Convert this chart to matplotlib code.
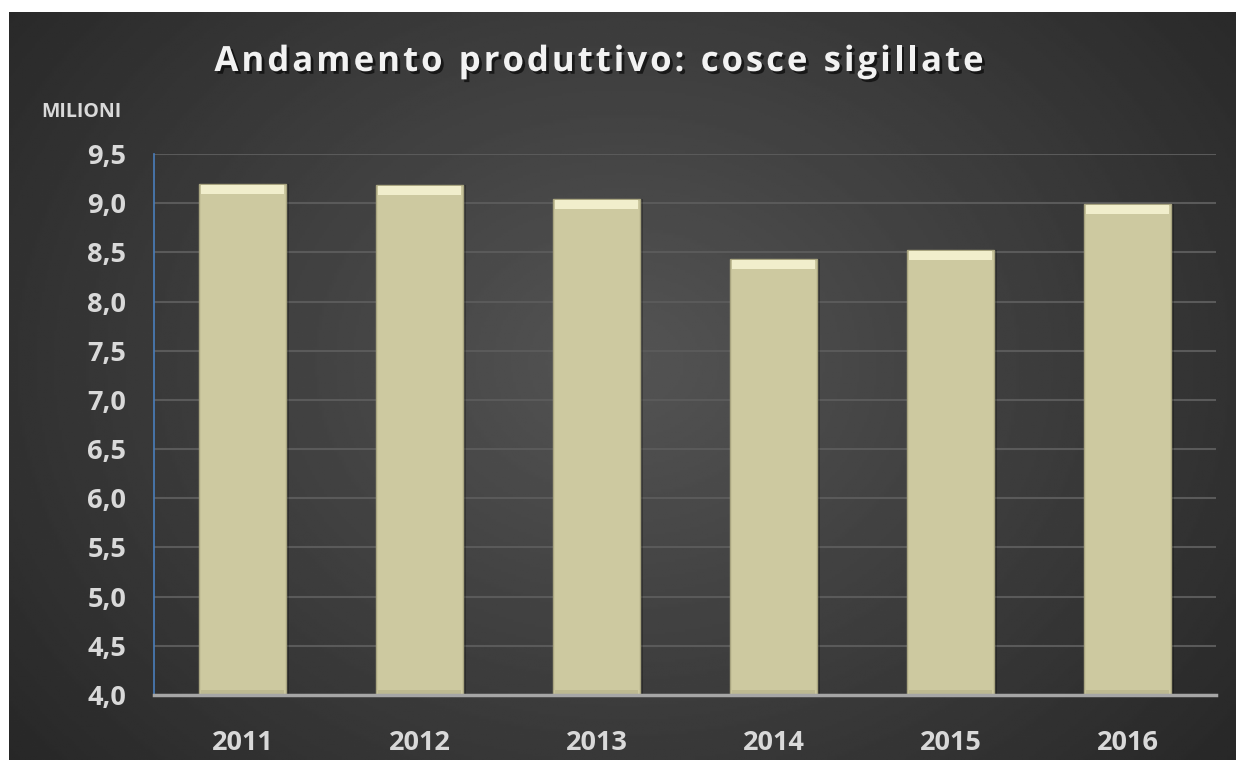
import numpy as np
import matplotlib.pyplot as plt
import matplotlib.patheffects as pe

# dati
anni = ['2011', '2012', '2013', '2014', '2015', '2016']
cosce = [9.19, 9.18, 9.04, 8.43, 8.52, 8.99]
tick_y = [4.0, 4.5, 5.0, 5.5, 6.0, 6.5, 7.0, 7.5, 8.0, 8.5, 9.0, 9.5]
etichette_y = ['4,0', '4,5', '5,0', '5,5', '6,0', '6,5', '7,0', '7,5', '8,0', '8,5', '9,0', '9,5']
titolo = 'Andamento produttivo: cosce sigillate'

plt.rcParams['font.family'] = ['Open Sans', 'DejaVu Sans']

fig = plt.figure(figsize=(12.36, 7.6), dpi=100)
fig.patch.set_facecolor('white')

# sfondo scuro con sfumatura radiale
sf = fig.add_axes([9 / 1236, 0, 1 - 9 / 1236, (760 - 12) / 760])
yy, xx = np.mgrid[0:300, 0:500]
r = np.sqrt(((xx - 250) / 330.0) ** 2 + ((yy - 140) / 260.0) ** 2)
r = np.clip(r, 0, 1)
grad = 0.33 - 0.18 * r
sf.imshow(grad, cmap='gray', vmin=0, vmax=1, aspect='auto', extent=[0, 1, 0, 1])
sf.set_axis_off()

ax = fig.add_axes([154 / 1236, 65 / 760, (1216 - 154) / 1236, (695 - 154) / 760])
ax.set_facecolor('none')

x = np.arange(len(anni))
base = 4.0
alt = [v - base for v in cosce]

# ombra
ax.bar(x + 0.012, alt, width=0.5, bottom=base, color='black', alpha=0.25, zorder=2)
# barre
ax.bar(x, alt, width=0.49, bottom=base, color='#cdc9a0', edgecolor='#a9a580',
       linewidth=1.0, zorder=3)
# smusso superiore
ax.bar(x, [0.09] * len(x), width=0.47, bottom=[v - 0.1 for v in cosce],
       color='#f1eecc', linewidth=0, zorder=4)
# smusso inferiore
ax.bar(x, [0.05] * len(x), width=0.47, bottom=base, color='#bdb991',
       linewidth=0, zorder=4)

ax.set_xlim(-0.5, len(anni) - 0.5)
ax.set_ylim(4.0, 9.5)
ax.set_yticks(tick_y)
ax.set_yticklabels(etichette_y)
ax.set_xticks(x)
ax.set_xticklabels(anni)
ax.tick_params(axis='both', length=0, colors='#d9d9d9', labelsize=19.5)
ax.tick_params(axis='y', pad=20)
ax.tick_params(axis='x', pad=25)
for lab in ax.get_xticklabels() + ax.get_yticklabels():
    lab.set_fontweight('bold')

ax.grid(axis='y', color='#5a5a5a', linewidth=1.5, zorder=1)
ax.set_axisbelow(True)
for s in ['top', 'right']:
    ax.spines[s].set_visible(False)
ax.spines['left'].set_color('#4a7ebb')
ax.spines['left'].set_linewidth(1.2)
ax.spines['bottom'].set_color('#a6a6a6')
ax.spines['bottom'].set_linewidth(2.5)
ax.spines['bottom'].set_zorder(5)

fig.text(0.0655, 0.852, 'MILIONI', color='#d9d9d9', fontsize=14, fontweight='bold',
         ha='center', va='center')

# titolo con spaziatura tra le lettere
r_ = fig.canvas.get_renderer()
stile = dict(color='#f2f2f2', fontsize=25, fontweight='bold', va='center', ha='left',
             path_effects=[pe.withSimplePatchShadow(offset=(2, -2), shadow_rgbFace='black', alpha=0.6)])
spazio = 3.0
larghezze = []
for c in titolo:
    t = fig.text(0, 0, c if c != ' ' else 'n', **stile)
    w = t.get_window_extent(r_).width
    if c == ' ':
        w = w * 0.45
    larghezze.append(w)
    t.remove()
totale = sum(larghezze) + spazio * (len(titolo) - 1)
xpos = 599 - totale / 2
for c, w in zip(titolo, larghezze):
    if c != ' ':
        fig.text(xpos / 1236, 1 - 62 / 760, c, **stile)
    xpos += w + spazio

fig.savefig('out.png', dpi=100, facecolor=fig.get_facecolor())
